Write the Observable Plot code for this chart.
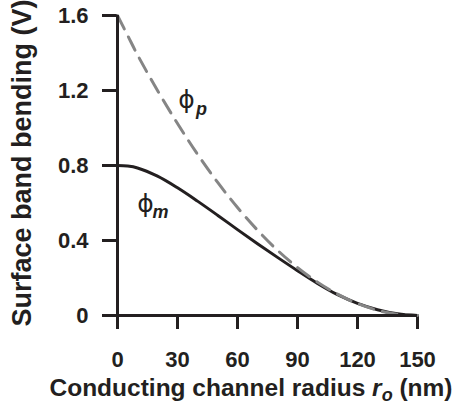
<!DOCTYPE html>
<html><head><meta charset="utf-8">
<script src="https://cdn.jsdelivr.net/npm/d3@7"></script>
<script src="https://cdn.jsdelivr.net/npm/@observablehq/plot@0.6"></script>
<style>html,body{margin:0;padding:0;background:#fff} svg{display:block}</style>
</head><body><div id="chart"></div>
<script>
// Data
const radius = [0, 5, 10, 20, 30, 40, 50, 60, 70, 80, 90, 100, 110, 120, 130, 140, 150];
const phiP = [1.6, 1.495, 1.39, 1.2, 1.024, 0.86, 0.711, 0.576, 0.455, 0.348, 0.256, 0.178, 0.114, 0.064, 0.028, 0.007, 0];
const phiM = [0.8, 0.797, 0.787, 0.743, 0.681, 0.61, 0.535, 0.458, 0.383, 0.31, 0.239, 0.171, 0.111, 0.065, 0.031, 0.009, 0];
const xTicks = [0, 30, 60, 90, 120, 150];
const yTicks = [0, 0.4, 0.8, 1.2, 1.6];
const yTickLabels = ["0", "0.4", "0.8", "1.2", "1.6"];
const curveLabels = [
  {r: 34.5, v: 1.147, sym: "\u03D5", sub: "p"},
  {r: 14, v: 0.597, sym: "\u03D5", sub: "m"}
];

const pRows = radius.map((r, i) => ({r, v: phiP[i]}));
const mRows = radius.map((r, i) => ({r, v: phiM[i]}));

const ink = "#231f20";
const font = "'Liberation Sans', Arial, Helvetica, sans-serif";

const plot = Plot.plot({
  width: 458,
  height: 405,
  marginLeft: 117,
  marginRight: 41,
  marginTop: 15,
  marginBottom: 90,
  style: {fontFamily: font, background: "#fff", color: ink},
  x: {domain: [0, 150]},
  y: {domain: [0, 1.6]},
  marks: [
    Plot.axisY({ticks: yTicks, tickFormat: d => yTickLabels[yTicks.indexOf(d)], tickSize: 15, tickPadding: 14,
      fontSize: 22, fontWeight: "bold", strokeWidth: 3, stroke: ink, fill: ink, label: null}),
    Plot.axisX({ticks: xTicks, tickFormat: d => String(d), tickSize: 14, tickPadding: 22,
      fontSize: 22, fontWeight: "bold", strokeWidth: 3, stroke: ink, fill: ink, label: null}),
    Plot.line(mRows, {x: "r", y: "v", stroke: ink, strokeWidth: 3, curve: "catmull-rom"}),
    Plot.line(pRows, {x: "r", y: "v", stroke: "#858585", strokeWidth: 3, strokeDasharray: "15,9", curve: "catmull-rom"}),
    Plot.ruleY([0], {stroke: ink, strokeWidth: 3}),
    Plot.ruleX([0], {stroke: ink, strokeWidth: 3}),
    Plot.text(curveLabels, {x: "r", y: "v", text: "sym", fontSize: 25, fontFamily: "'DejaVu Sans', sans-serif", fill: ink}),
    Plot.text(curveLabels, {x: "r", y: "v", text: "sub", dx: 15, dy: 9, fontSize: 18, fontWeight: "bold", fontStyle: "italic", fill: ink})
  ]
});

const svg = d3.select(plot);
// x axis title with italic subscript
const xt = svg.append("text")
  .attr("x", 251).attr("y", 396)
  .attr("text-anchor", "middle")
  .attr("font-family", font).attr("font-size", 24.5).attr("font-weight", "bold").attr("fill", ink);
xt.append("tspan").text("Conducting channel radius ");
xt.append("tspan").attr("font-style", "italic").text("r");
xt.append("tspan").attr("font-style", "italic").attr("font-size", 18).attr("dy", 5).text("o");
xt.append("tspan").attr("dy", -5).text(" (nm)");

// y axis title
svg.append("text")
  .attr("transform", "translate(31,163) rotate(-90)")
  .attr("text-anchor", "middle")
  .attr("font-family", font).attr("font-size", 27).attr("font-weight", "bold").attr("fill", ink)
  .text("Surface band bending (V)");

document.getElementById("chart").appendChild(plot);
</script>
</body></html>
